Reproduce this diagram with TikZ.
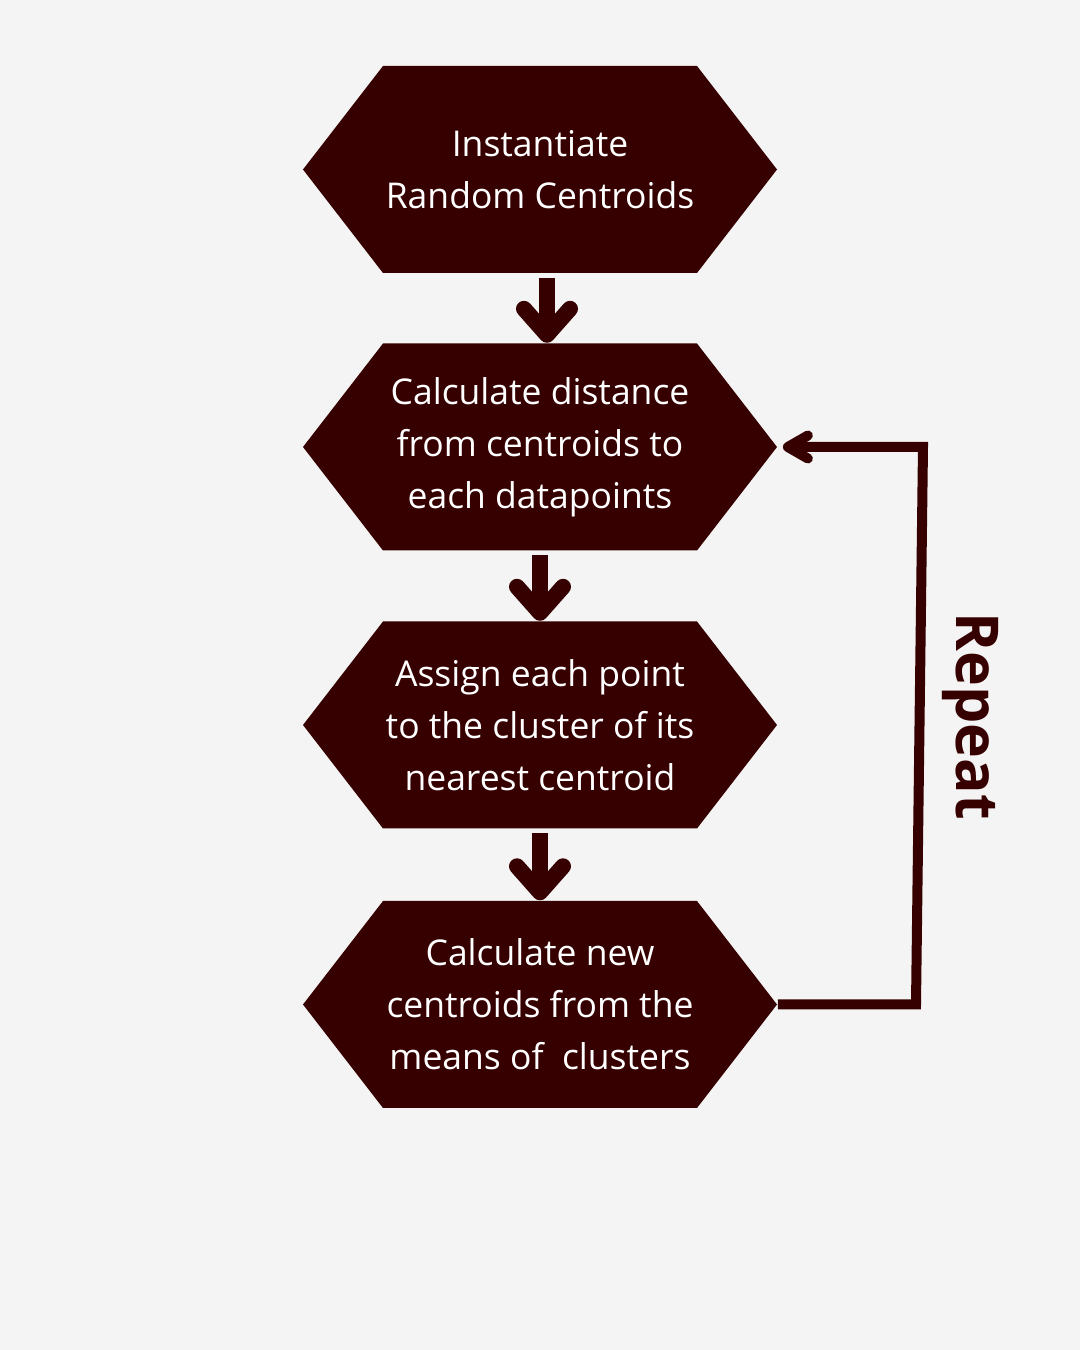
\documentclass[tikz,border=0pt]{standalone}
\usepackage{fontspec}
\setmainfont{Open Sans}
\usetikzlibrary{shapes.symbols, arrows.meta}
\definecolor{maroon}{RGB}{54,0,0}
\definecolor{paper}{RGB}{244,244,244}

\begin{document}
\begin{tikzpicture}[
        stepbox/.style={signal, signal to=west and east, signal pointer angle=104.6, fill=maroon, minimum width=4.74cm, minimum height=2.07cm, inner xsep=-0.3cm, inner ysep=0pt, align=center, text=white, font=\fontsize{10.1pt}{14.8pt}\selectfont},
        flow/.style={-{Straight Barb[round, length=0.26cm, width=0.46cm]}, line width=0.16cm, draw=maroon, shorten <=0.04cm},
        back/.style={-{Straight Barb[round, length=0.2cm, width=0.23cm]}, line width=0.1cm, draw=maroon, shorten >=0.05cm}
    ]
        % Paper
        \fill[paper] (0,0) rectangle (10.8,13.5);

        % Steps of the algorithm
        \node[stepbox] (inst) at (5.40,11.805) {Instantiate\\Random Centroids};
        \node[stepbox] (dist) at (5.40,9.03) {Calculate distance\\from centroids to\\each datapoints};
        \node[stepbox] (assign) at (5.40,6.25) {Assign each point\\to the cluster of its\\nearest centroid};
        \node[stepbox] (update) at (5.40,3.455) {Calculate new\\centroids from the\\means of\ \ clusters};

        % Flow between steps
        \draw[flow] ([xshift=0.07cm]inst.south) -- ([xshift=0.07cm]dist.north);
        \draw[flow] (dist.south) -- (assign.north);
        \draw[flow] (assign.south) -- (update.north);

        % Repeat loop
        \coordinate (turnlow) at (9.16,3.47);
        \coordinate (turnhigh) at (9.23,9.03);
        \draw[back] (update.east) -- (update.east -| turnlow) -- (dist.east -| turnhigh) -- (dist.east);
        \node[rotate=-90, text=maroon, font=\bfseries\fontsize{16.8pt}{16.8pt}\selectfont] (repeat) at (9.70,6.34) {Repeat};

    \end{tikzpicture}
\end{document}
